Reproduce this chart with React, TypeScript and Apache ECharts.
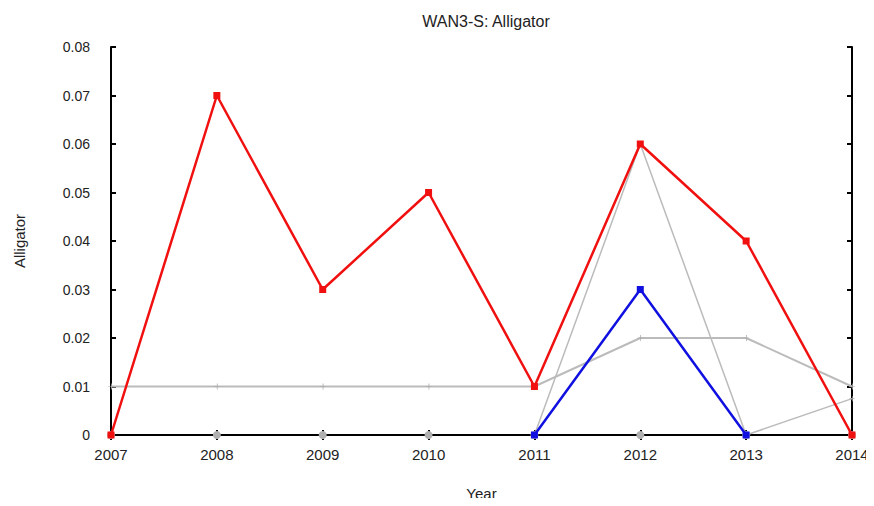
import React, { useEffect, useRef } from "react";
import * as echarts from "echarts";

const years = [2007, 2008, 2009, 2010, 2011, 2012, 2013, 2014];
const redValues = [0, 0.07, 0.03, 0.05, 0.01, 0.06, 0.04, 0];
const blueValues: (number | null)[] = [null, null, null, null, 0, 0.03, 0, null];
const grayFlat = [0.01, 0.01, 0.01, 0.01, 0.01, 0.02, 0.02, 0.01];
const graySpike: (number | null)[] = [null, null, null, null, 0, 0.06, 0, 0.0075];
const grayZero = [0, 0, 0, 0, 0, 0, 0, 0];

const pair = (vals: (number | null)[]) => years.map((y, i) => [y, vals[i]]);

const plus = "path://M0,4L8,4L8,5L0,5ZM4,0L5,0L5,9L4,9Z";

export default function App() {
  const ref = useRef<HTMLDivElement>(null);
  useEffect(() => {
    if (!ref.current) return;
    const chart = echarts.init(ref.current, null, { renderer: "svg" });
    const font = "Liberation Sans, Arial, sans-serif";
    chart.setOption({
      animation: false,
      backgroundColor: "#ffffff",
      textStyle: { fontFamily: font },
      title: {
        text: "WAN3-S: Alligator",
        left: 481,
        top: 8,
        textAlign: "center",
        textStyle: { fontSize: 16, fontWeight: "normal", color: "#222", fontFamily: font },
      },
      grid: { left: 111, right: 22, top: 47, bottom: 71, show: false },
      xAxis: [
        {
          type: "value",
          min: 2007,
          max: 2014,
          interval: 1,
          name: "Year",
          nameLocation: "middle",
          nameGap: 51,
          nameTextStyle: { fontSize: 15, color: "#222", fontFamily: font },
          axisLine: { show: true, onZero: false, lineStyle: { color: "#000", width: 2 } },
          axisTick: { show: true, inside: true, length: 5, lineStyle: { color: "#000", width: 2 } },
          axisLabel: {
            fontSize: 15,
            color: "#222",
            margin: 12,
            fontFamily: font,
            formatter: (v: number) => String(v),
          },
          splitLine: { show: false },
        },
        {
          type: "value",
          position: "top",
          min: 2007,
          max: 2014,
          interval: 1,
          axisLine: { show: true, lineStyle: { color: "#000", width: 2 } },
          axisTick: { show: true, inside: true, length: 5, lineStyle: { color: "#000", width: 2 } },
          axisLabel: { show: false },
          splitLine: { show: false },
        },
      ],
      yAxis: [
        {
          type: "value",
          min: 0,
          max: 0.08,
          interval: 0.01,
          name: "Alligator",
          nameLocation: "middle",
          nameGap: 84,
          nameRotate: 90,
          nameTextStyle: { fontSize: 15, color: "#222", fontFamily: font },
          axisLine: { show: true, lineStyle: { color: "#000", width: 2 } },
          axisTick: { show: true, inside: true, length: 5, lineStyle: { color: "#000", width: 2 } },
          axisLabel: { fontSize: 14, color: "#222", margin: 21, fontFamily: font },
          splitLine: { show: false },
        },
        {
          type: "value",
          position: "right",
          min: 0,
          max: 0.08,
          interval: 0.01,
          axisLine: { show: true, lineStyle: { color: "#000", width: 2 } },
          axisTick: { show: true, inside: true, length: 5, lineStyle: { color: "#000", width: 2 } },
          axisLabel: { show: false },
          splitLine: { show: false },
        },
      ],
      series: [
        {
          type: "line",
          data: pair(grayZero),
          clip: false,
          symbol: "circle",
          symbolSize: 8,
          lineStyle: { width: 0, opacity: 0 },
          itemStyle: { color: "#b0b0b0" },
          z: 3,
        },
        {
          type: "line",
          data: pair(grayFlat),
          clip: false,
          symbol: plus,
          symbolSize: 6,
          lineStyle: { width: 2, color: "#bbbbbb" },
          itemStyle: { color: "#aaaaaa" },
          z: 2,
        },
        {
          type: "line",
          data: pair(graySpike),
          clip: false,
          symbol: plus,
          symbolSize: 5,
          lineStyle: { width: 1.5, color: "#bbbbbb" },
          itemStyle: { color: "#aaaaaa" },
          z: 2,
        },
        {
          type: "line",
          data: pair(blueValues),
          clip: false,
          symbol: "rect",
          symbolSize: 7,
          lineStyle: { width: 2.5, color: "#1010e0" },
          itemStyle: { color: "#1010e0" },
          z: 4,
        },
        {
          type: "line",
          data: pair(redValues),
          clip: false,
          symbol: "rect",
          symbolSize: 7,
          lineStyle: { width: 2.5, color: "#f01010" },
          itemStyle: { color: "#f01010" },
          z: 5,
        },
      ],
    });
    return () => chart.dispose();
  }, []);
  return <div ref={ref} style={{ width: 874, height: 506, margin: -8 }} />;
}
